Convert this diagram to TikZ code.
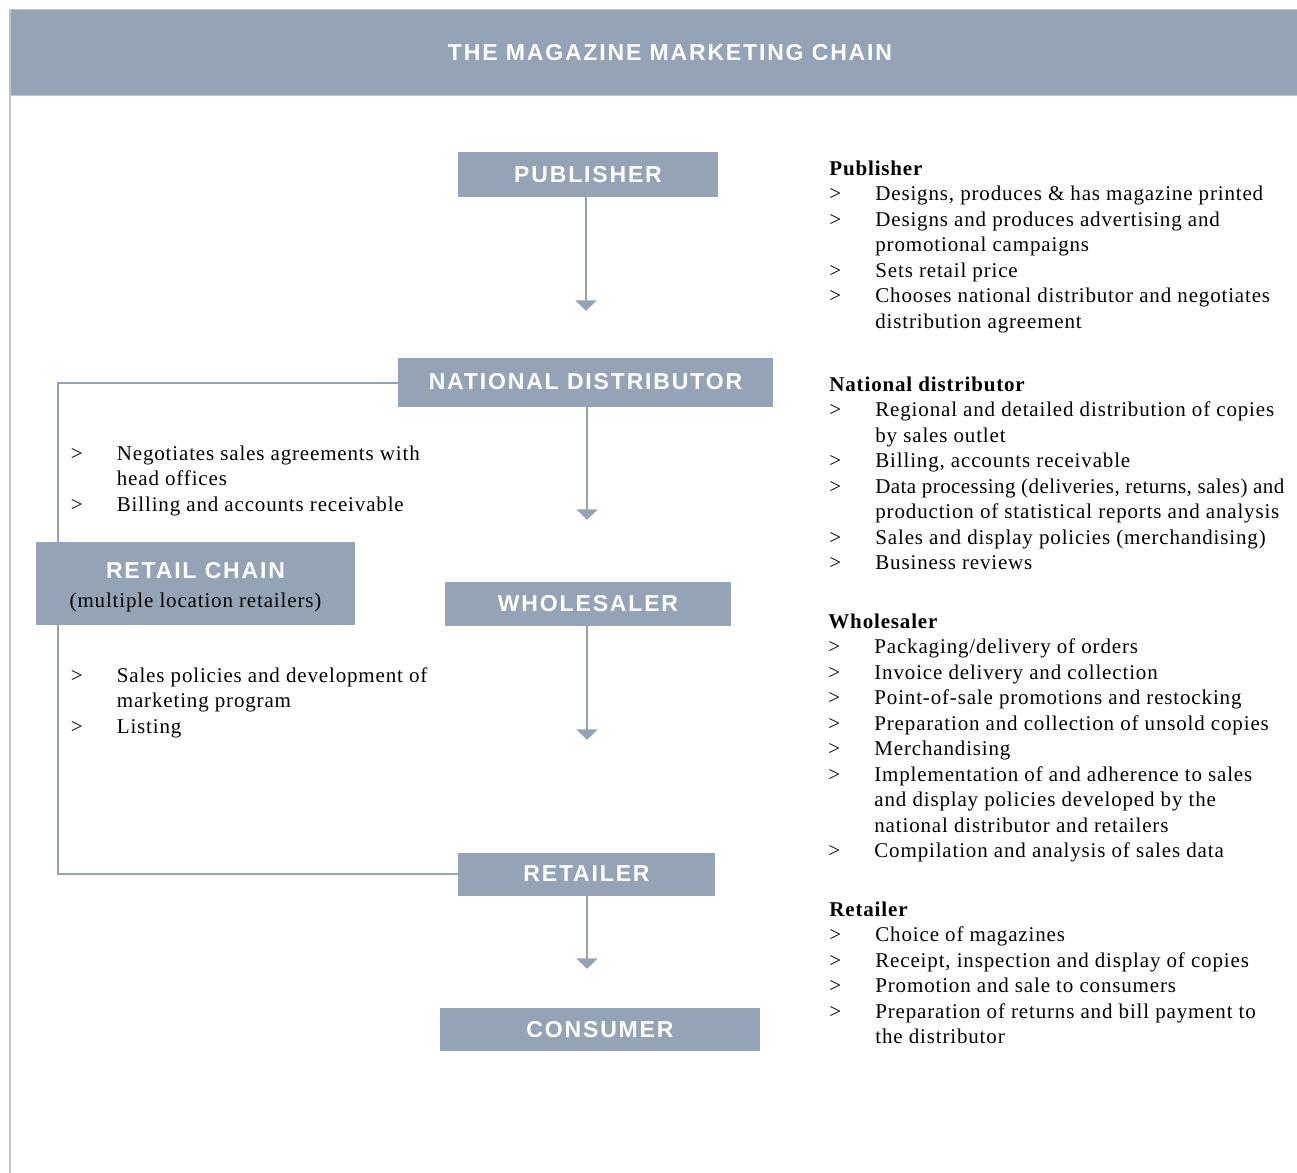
\documentclass[tikz,border=0pt]{standalone}
\usepackage{fontspec}
\setmainfont{Liberation Serif}[LetterSpace=4]
\newfontfamily\boxfont{Liberation Sans}[LetterSpace=8]
\usetikzlibrary{arrows.meta}

\definecolor{slate}{HTML}{95A3B6}
\definecolor{frameline}{HTML}{BAC3CE}
\newcommand{\bodysize}{\fontsize{10.5}{12.75}\selectfont}
\newcommand{\itm}[1]{\makebox[23pt][l]{>}#1}
\newcommand{\cont}[1]{\hspace*{23pt}#1}

\begin{document}
\begin{tikzpicture}[x=0.5pt,y=-0.5pt,
	box/.style={fill=slate, text=white, inner sep=0pt, font=\boxfont\bfseries\fontsize{11.5}{13}\selectfont},
	info/.style={anchor=north west, inner sep=0pt, align=left, font=\bodysize},
	flow/.style={draw=slate, line width=1.3pt, -{Triangle[width=10.3pt,length=5.3pt]}},
	link/.style={draw=slate, line width=1pt}]
			\useasboundingbox (0,0) rectangle (1297,1173);
			
			\draw[frameline, line width=0.8pt] (10,9) -- (10,1173);
			\node[box, draw=frameline, line width=0.5pt, minimum width=643.5pt, minimum height=43pt] (bar) at (653.5,52) {};
			\node[box, fill=none] (title) at (670,53) {THE MAGAZINE MARKETING CHAIN};
			
			\node[box, minimum width=130pt, minimum height=22.5pt] (pub) at (588,174.5) {PUBLISHER};
			\node[box, minimum width=187.5pt, minimum height=24.5pt] (nd) at (585.5,382) {NATIONAL DISTRIBUTOR};
			\node[box, minimum width=143pt, minimum height=22pt] (wh) at (588,604) {WHOLESALER};
			\node[box, minimum width=128.5pt, minimum height=21.5pt] (rt) at (586.5,874) {RETAILER};
			\node[box, minimum width=160pt, minimum height=21.5pt] (cons) at (600,1029.5) {CONSUMER};
			
			\coordinate (t1) at (586,311);
			\coordinate (t2) at (587,520);
			\coordinate (t3) at (587,740);
			\coordinate (t4) at (587,969);
			\draw[flow] (pub.south -| t1) -- (t1);
			\draw[flow] (nd.south -| t2) -- (t2);
			\draw[flow] (wh.south -| t3) -- (t3);
			\draw[flow] (rt.south -| t4) -- (t4);
			
			\coordinate (corner) at (57.5,383);
			\draw[link] (nd.west |- corner) -- (corner) |- (rt.west);
			\node[box, minimum width=159.5pt, minimum height=41.5pt, align=center] (chain) at (195.5,583.5) {\rule{0pt}{11.7pt}RETAIL CHAIN\\[1.5pt]{\bodysize\normalfont\color{black}(multiple location retailers)}};
			
			\node[info] (ndnotes) at (70.5,442) {\strut\itm{Negotiates sales agreements with}\\\cont{head offices}\\\itm{Billing and accounts receivable}};
			\node[info] (chainnotes) at (70.5,664) {\strut\itm{Sales policies and development of}\\\cont{marketing program}\\\itm{Listing}};
			
			\node[info] (pubinfo) at (829,157) {\strut\textbf{Publisher}\\
				\itm{Designs, produces \& has magazine printed}\\
				\itm{Designs and produces advertising and}\\
				\cont{promotional campaigns}\\
				\itm{Sets retail price}\\
				\itm{Chooses national distributor and negotiates}\\
				\cont{distribution agreement}};
			\node[info] (ndinfo) at (829,373) {\strut\textbf{National distributor}\\
				\itm{Regional and detailed distribution of copies}\\
				\cont{by sales outlet}\\
				\itm{Billing, accounts receivable}\\
				\itm{{\addfontfeatures{LetterSpace=2}Data processing (deliveries, returns, sales) and}}\\
				\cont{production of statistical reports and analysis}\\
				\itm{Sales and display policies (merchandising)}\\
				\itm{Business reviews}};
			\node[info] (whinfo) at (828,610) {\strut\textbf{Wholesaler}\\
				\itm{Packaging/delivery of orders}\\
				\itm{Invoice delivery and collection}\\
				\itm{Point-of-sale promotions and restocking}\\
				\itm{Preparation and collection of unsold copies}\\
				\itm{Merchandising}\\
				\itm{Implementation of and adherence to sales}\\
				\cont{and display policies developed by the}\\
				\cont{national distributor and retailers}\\
				\itm{Compilation and analysis of sales data}};
			\node[info] (rtinfo) at (829,898) {\strut\textbf{Retailer}\\
				\itm{Choice of magazines}\\
				\itm{Receipt, inspection and display of copies}\\
				\itm{Promotion and sale to consumers}\\
				\itm{Preparation of returns and bill payment to}\\
				\cont{the distributor}};
\end{tikzpicture}
\end{document}
